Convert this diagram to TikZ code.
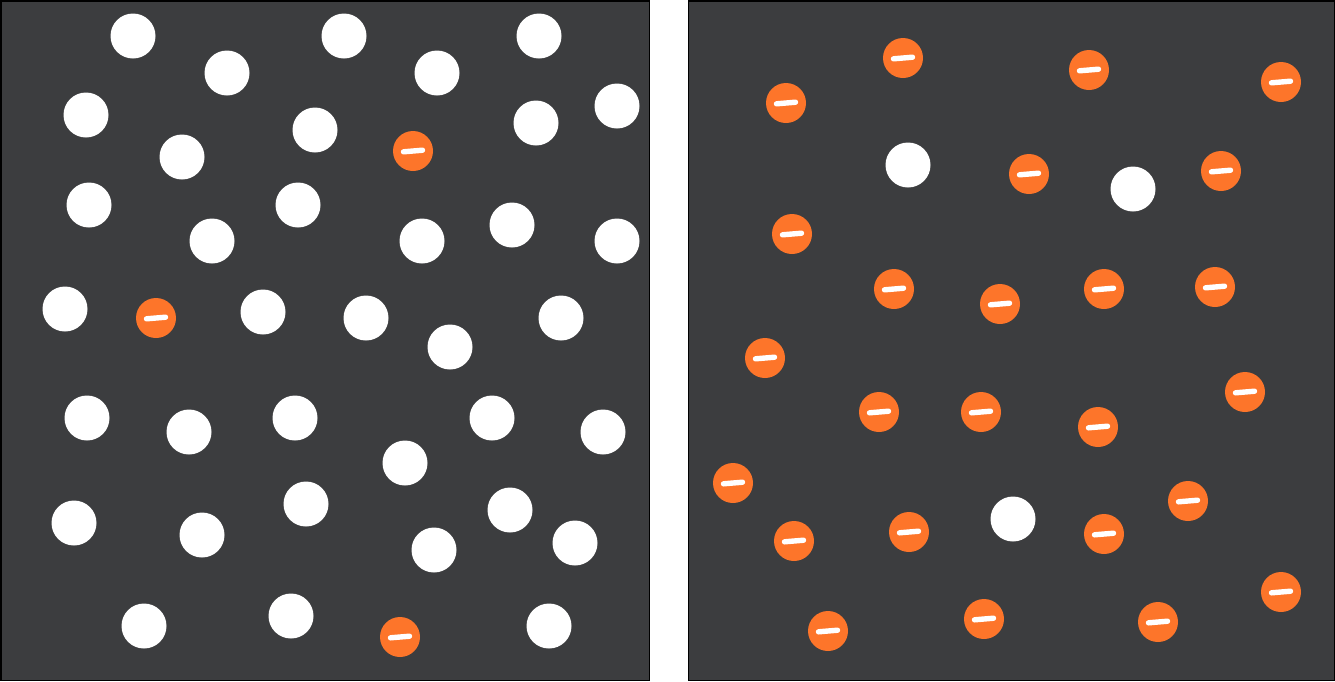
\documentclass[tikz,border=0pt]{standalone}
\usetikzlibrary{calc}
\definecolor{panelbg}{RGB}{60,61,63}
\definecolor{eorange}{RGB}{253,117,42}
\tikzset{
  panel/.style={fill=panelbg, draw=black, line width=1.5pt},
  neutral/.style={circle, fill=white, minimum size=45pt, inner sep=0pt, outer sep=0pt},
  electron/.style={circle, fill=eorange, minimum size=40pt, inner sep=0pt, outer sep=0pt,
    path picture={\draw[white, line width=5.4pt, line cap=round]
      ($(path picture bounding box.center)+(-9.5,0.8)$) -- ($(path picture bounding box.center)+(9.5,-0.8)$);}}
}
\begin{document}
\begin{tikzpicture}[x=1pt,y=-1pt]
\useasboundingbox (0,0) rectangle (1335,681);
\path[fill=white] (0,0) rectangle (1335,681);
\path[panel] (0.75,0.75) rectangle (649.5,680.25);
\path[panel] (688.5,0.75) rectangle (1334.25,680.25);
% left panel: neutral particles
\foreach \p [count=\i] in {(133,36),(344,36),(539,36),(227,73),(437,73),(86,115),(315,130),(536,123),(617,106),(182,157),(89,205),(298,205),(512,225),(212,241),(422,241),(617,241),(65,309),(263,312),(366,318),(561,318),(450,347),(87,418),(189,432),(295,418),(492,418),(603,432),(405,463),(74,523),(306,504),(510,510),(202,535),(434,550),(575,543),(144,626),(291,616),(549,626)}
  \node[neutral] (lw\i) at \p {};
% left panel: electrons
\foreach \p [count=\i] in {(413,151),(156,318),(400,637)}
  \node[electron] (le\i) at \p {};
% right panel: neutral particles
\foreach \p [count=\i] in {(908,165),(1133,189),(1013,519)}
  \node[neutral] (rw\i) at \p {};
% right panel: electrons
\foreach \p [count=\i] in {(786,103),(903,58),(1089,70),(1281,82),(1029,174),(1221,171),(792,234),(894,289),(1000,304),(1104,289),(1215,287),(765,358),(879,412),(981,412),(1098,427),(1245,392),(733,483),(1188,501),(794,541),(909,532),(1104,534),(1281,592),(828,631),(984,619),(1158,622)}
  \node[electron] (re\i) at \p {};
\end{tikzpicture}
\end{document}
